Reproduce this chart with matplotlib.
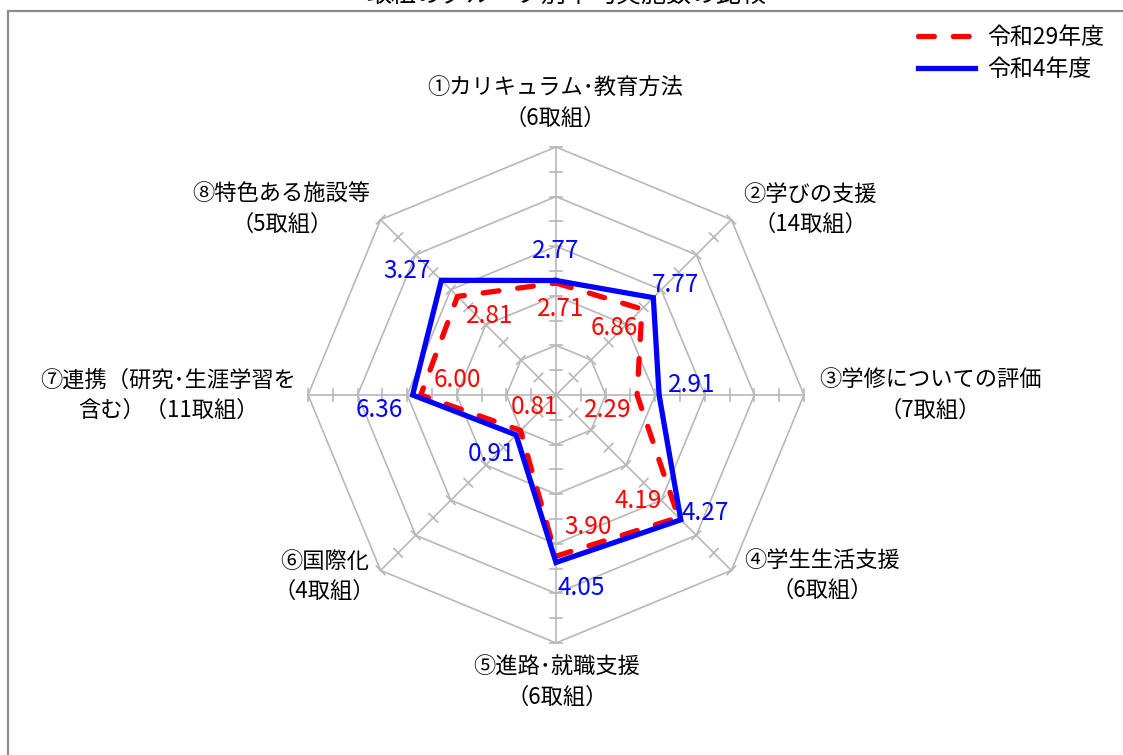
import numpy as np
import matplotlib.pyplot as plt
from matplotlib.patches import Rectangle

plt.rcParams['font.family'] = ['Noto Sans CJK JP', 'DejaVu Sans']

title = '取組のグループ別平均実施数の比較'
groups = ['①カリキュラム･教育方法', '②学びの支援', '③学修についての評価', '④学生生活支援',
          '⑤進路･就職支援', '⑥国際化', '⑦連携（研究･生涯学習を\n含む）', '⑧特色ある施設等']
counts = [6, 14, 7, 6, 6, 4, 11, 5]
r29 = [2.71, 6.86, 2.29, 4.19, 3.90, 0.81, 6.00, 2.81]
r4 = [2.77, 7.77, 2.91, 4.27, 4.05, 0.91, 6.36, 3.27]
series_names = ['令和29年度', '令和4年度']

# label offsets in pixels from the point
off_r29 = [(5, -26), (-28, -19), (-29, -15), (-40, 16), (32, 29), (14, 24), (37, 15), (32, -20)]
off_r4 = [(0, 30), (22, 13), (33, 10), (24, 7), (25, -26), (-25, -19), (-33, -15), (-34, 9)]
off_cat = [(-1, 44), (79, 10), (126, 0), (91, -5), (1, -39), (-56, -6), (-140, 0), (-99, 10)]

grid = '#b8b8b8'

fig = plt.figure(figsize=(11.23, 7.55), dpi=100)
ax = fig.add_axes([308/1123, 112/755, 496/1123, 496/755], projection='polar')
ax.set_theta_zero_location('N')
ax.set_theta_direction(-1)
ax.set_ylim(0, 1)
ax.axis('off')

n = len(groups)
theta = np.arange(n) * 2 * np.pi / n
tc = np.append(theta, theta[0])

# octagon rings, spokes and ticks
for r in [0.2, 0.4, 0.6, 0.8, 1.0]:
    ax.plot(tc, [r] * (n + 1), color=grid, lw=1.2, clip_on=False, zorder=1)
for t in theta:
    ax.plot([t, t], [0, 1], color=grid, lw=1.2, clip_on=False, zorder=1)
    for r in np.arange(0.1, 1.01, 0.1):
        d = 0.024
        R = np.hypot(r, d)
        dt = np.arctan(d / r)
        ax.plot([t - dt, t + dt], [R, R], color=grid, lw=1.2, clip_on=False, zorder=1)

ratio29 = np.array(r29) / np.array(counts)
ratio4 = np.array(r4) / np.array(counts)

ax.plot(tc, np.append(ratio29, ratio29[0]), color='#ff0000', lw=3.8, dashes=(3.0, 3.6),
        dash_capstyle='round', label=series_names[0], clip_on=False, zorder=3)
ax.plot(tc, np.append(ratio4, ratio4[0]), color='#0000ff', lw=3.8, solid_joinstyle='miter',
        label=series_names[1], clip_on=False, zorder=4)

for i in range(n):
    ax.annotate(f'{r29[i]:.2f}', (theta[i], ratio29[i]), xytext=off_r29[i],
                textcoords='offset pixels', ha='center', va='center',
                color='#ff0000', fontsize=17.5, zorder=5)
    ax.annotate(f'{r4[i]:.2f}', (theta[i], ratio4[i]), xytext=off_r4[i],
                textcoords='offset pixels', ha='center', va='center',
                color='#0000ff', fontsize=17.5, zorder=5)
    if '\n' in groups[i]:
        txt = groups[i] + f'（{counts[i]}取組）'
    else:
        txt = groups[i] + f'\n（{counts[i]}取組）'
    ax.annotate(txt, (theta[i], 1.0), xytext=off_cat[i], textcoords='offset pixels',
                ha='center', va='center', multialignment='center', linespacing=1.4,
                fontsize=16, color='black', annotation_clip=False)

ax.legend(loc='upper left', bbox_to_anchor=(918/1123, 1 - 26/755),
          bbox_transform=fig.transFigure, frameon=False, fontsize=16.5,
          handlelength=2.5, handletextpad=0.5, labelspacing=0.4,
          borderpad=0, borderaxespad=0)

fig.add_artist(Rectangle((8/1123, -0.1), 1.2, 1.1 - 11/755, transform=fig.transFigure,
                         fill=False, ec='#8c8c8c', lw=1.6))
fig.text(566/1123, 1 - 8/755, title, ha='center', va='bottom', fontsize=18)

fig.savefig('out.png', dpi=100)
